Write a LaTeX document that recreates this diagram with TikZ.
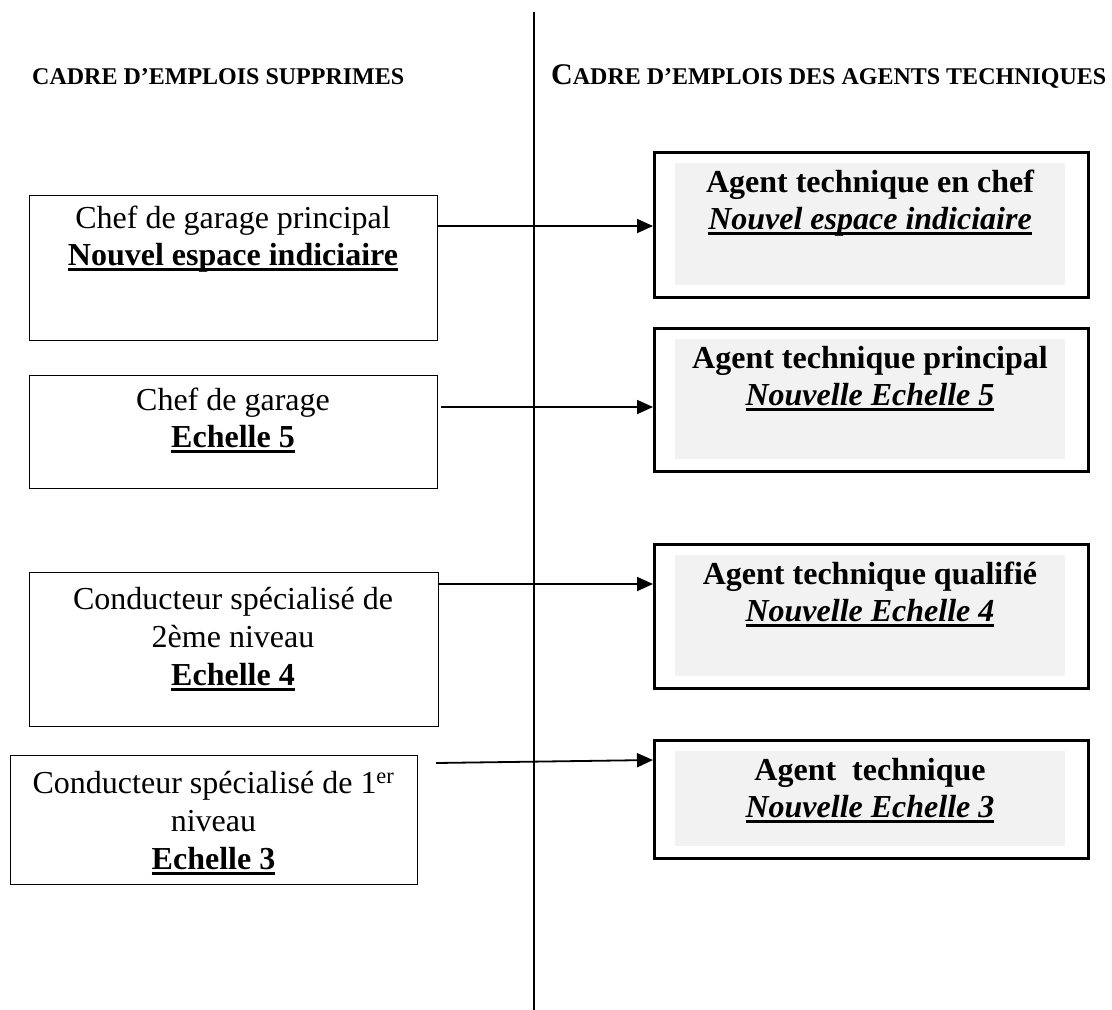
\documentclass[tikz,border=0pt]{standalone}
\usepackage{fontspec}
\setmainfont{Liberation Serif}
\usetikzlibrary{arrows.meta}
\definecolor{boxgray}{HTML}{F2F2F2}
\newcommand{\myul}[1]{\setbox0\hbox{#1}\rlap{\rule[-5.5pt]{\wd0}{2.4pt}}\box0}
\tikzset{
  lbox/.style={draw=black, line width=1.3pt, rectangle, inner sep=0pt, anchor=north west},
  rbox/.style={draw=black, line width=3.2pt, rectangle, inner sep=0pt, anchor=north west},
  txt/.style={anchor=base, inner sep=0pt, font=\fontsize{32}{37}\selectfont},
  hdr/.style={anchor=base west, inner sep=0pt, font=\bfseries\fontsize{24}{26}\selectfont},
  arr/.style={line width=1.8pt, -{Triangle[length=16pt,width=14pt]}},
  sep/.style={line width=2pt}
}
\begin{document}
\begin{tikzpicture}[x=1pt,y=-1pt]
\useasboundingbox (0,0) rectangle (1112,1010);
% separator
\coordinate (st) at (534,12);
\coordinate (sb) at (534,1010);
\draw[sep] (st) -- (sb);
% headers
\node[hdr] (h1) at (32,84) {CADRE D’EMPLOIS SUPPRIMES};
\node[hdr] (h2) at (551,84) {{\fontsize{30}{30}\selectfont C}ADRE D’EMPLOIS DES AGENTS TECHNIQUES};
% left boxes
\node[lbox, minimum width=408pt, minimum height=145pt] (L1) at (29,195) {};
\node[lbox, minimum width=408pt, minimum height=113pt] (L2) at (29,375) {};
\node[lbox, minimum width=409pt, minimum height=154pt] (L3) at (29,572) {};
\node[lbox, minimum width=407pt, minimum height=129pt] (L4) at (10,755) {};
% right boxes
\node[rbox, minimum width=434pt, minimum height=145pt] (R1) at (653,151) {};
\node[rbox, minimum width=434pt, minimum height=143pt] (R2) at (653,327) {};
\node[rbox, minimum width=434pt, minimum height=144pt] (R3) at (653,543) {};
\node[rbox, minimum width=434pt, minimum height=118pt] (R4) at (653,739) {};
% gray panels
\fill[boxgray] (675,163) rectangle (1065,285);
\fill[boxgray] (675,339) rectangle (1065,459);
\fill[boxgray] (675,555) rectangle (1065,676);
\fill[boxgray] (675,751) rectangle (1065,846);
% left texts
\node[txt] (l1a) at (233,228) {Chef de garage principal};
\node[txt] (l1b) at (233,265) {\bfseries\myul{Nouvel espace indiciaire}};
\node[txt] (l2a) at (233,410) {Chef de garage};
\node[txt] (l2b) at (233,447) {\bfseries\myul{Echelle 5}};
\node[txt] (l3a) at (233,609) {Conducteur spécialisé de};
\node[txt] (l3b) at (233,647) {2ème niveau};
\node[txt] (l3c) at (233,685) {\bfseries\myul{Echelle 4}};
\node[txt] (l4a) at (213.5,793) {Conducteur spécialisé de 1\textsuperscript{er}};
\node[txt] (l4b) at (213.5,831) {niveau};
\node[txt] (l4c) at (213.5,869) {\bfseries\myul{Echelle 3}};
% right texts
\node[txt] (r1a) at (870,192) {\bfseries Agent technique en chef};
\node[txt] (r1b) at (870,229) {\bfseries\itshape\myul{Nouvel espace indiciaire}};
\node[txt] (r2a) at (870,368) {\bfseries Agent technique principal};
\node[txt] (r2b) at (870,405) {\bfseries\itshape\myul{Nouvelle Echelle 5}};
\node[txt] (r3a) at (870,584) {\bfseries Agent technique qualifié};
\node[txt] (r3b) at (870,621) {\bfseries\itshape\myul{Nouvelle Echelle 4}};
\node[txt] (r4a) at (870,780) {\bfseries Agent\ \ technique};
\node[txt] (r4b) at (870,817) {\bfseries\itshape\myul{Nouvelle Echelle 3}};
% arrows
\draw[arr] (L1.east |- 0,226) -- (R1.west |- 0,226);
\coordinate (a2s) at (441,407);
\draw[arr] (a2s) -- (R2.west |- 0,407);
\draw[arr] (L3.east |- 0,584) -- (R3.west |- 0,584);
\coordinate (a4s) at (436,763);
\draw[arr] (a4s) -- (R4.west |- 0,760);
\end{tikzpicture}
\end{document}
